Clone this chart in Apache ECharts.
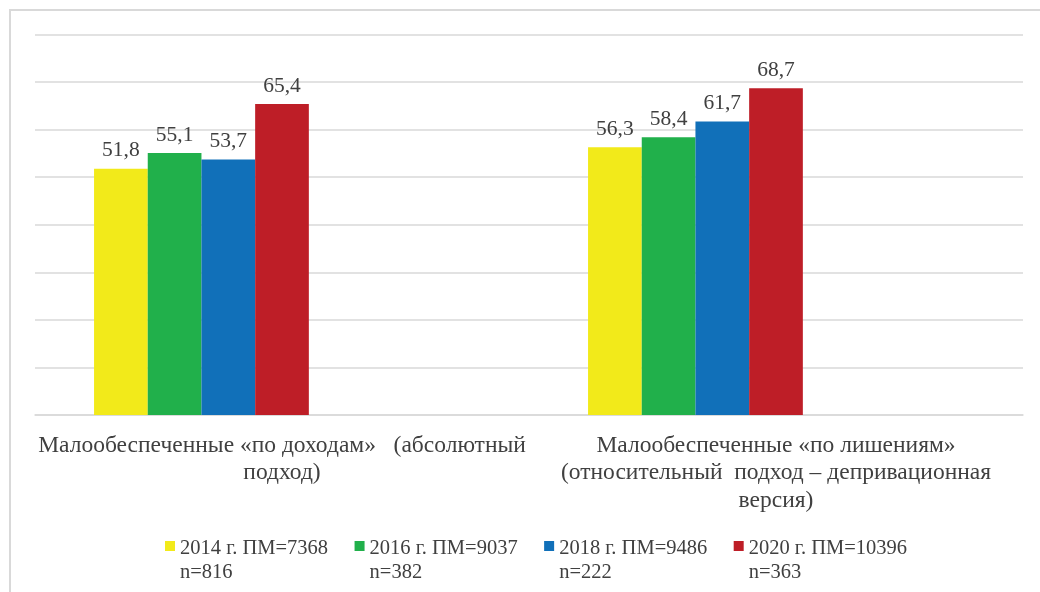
<!DOCTYPE html>
<html>
<head>
<meta charset="utf-8">
<script src="https://cdn.jsdelivr.net/npm/echarts@6/dist/echarts.min.js"></script>
<style>
  html, body { margin: 0; padding: 0; background: #fff; }
  #chart { width: 1040px; height: 592px; }
</style>
</head>
<body>
<div id="chart"></div>
<script>
const categories = [
  "Малообеспеченные «по доходам»   (абсолютный\nподход)",
  "Малообеспеченные «по лишениям»\n(относительный  подход – депривационная\nверсия)"
];
const seriesNames = [
  "2014 г. ПМ=7368\nn=816",
  "2016 г. ПМ=9037\nn=382",
  "2018 г. ПМ=9486\nn=222",
  "2020 г. ПМ=10396\nn=363"
];
const values2014 = [51.8, 56.3];
const values2016 = [55.1, 58.4];
const values2018 = [53.7, 61.7];
const values2020 = [65.4, 68.7];
const colors = ["#f2ea1a", "#21b04b", "#1170b9", "#be1e27"];

const textColor = "#404040";
const serif = "'Liberation Serif', 'DejaVu Serif', serif";

// square sitting beside the first text line (the two tiny strokes stretch the box to two lines)
const legendIcon = "path://M0,0L0.01,0M0,4L10,4L10,14L0,14ZM0,48L0.01,48";

const chart = echarts.init(document.getElementById("chart"), null, { renderer: "canvas" });

const dataSets = [values2014, values2016, values2018, values2020];
const series = dataSets.map((d, i) => ({
  name: seriesNames[i],
  type: "bar",
  data: d,
  barWidth: 53.7,
  barGap: "0%",
  itemStyle: { color: colors[i] },
  label: {
    show: true,
    position: "top",
    distance: 7,
    color: textColor,
    fontFamily: serif,
    fontSize: 21.5,
    formatter: (p) => String(p.value).replace(".", ",")
  }
}));
// empty slots Excel reserves to the right of each cluster
for (let k = 0; k < 3; k++) {
  series.push({
    name: "empty" + k,
    type: "bar",
    data: [null, null],
    barWidth: 53.7,
    barGap: "0%",
    silent: true
  });
}

const option = {
  animation: false,
  graphic: [{
    type: "rect",
    shape: { x: 10, y: 10, width: 1060, height: 620 },
    style: { fill: "none", stroke: "#d9d9d9", lineWidth: 2 },
    silent: true
  }],
  grid: { left: 35, right: 17, top: 34.5, bottom: 177 },
  legend: {
    data: seriesNames,
    left: 165,
    top: 537,
    padding: 0,
    itemWidth: 10,
    itemHeight: 48,
    itemGap: 26.5,
    icon: legendIcon,
    textStyle: {
      color: textColor,
      fontFamily: serif,
      fontSize: 20.5,
      lineHeight: 24
    }
  },
  xAxis: {
    type: "category",
    data: categories,
    axisLine: { lineStyle: { color: "#d9d9d9", width: 1.5 } },
    axisTick: { show: false },
    axisLabel: {
      interval: 0,
      margin: 17,
      color: textColor,
      fontFamily: serif,
      fontSize: 23.5,
      lineHeight: 27.5
    }
  },
  yAxis: {
    type: "value",
    min: 0,
    max: 80,
    interval: 10,
    axisLabel: { show: false },
    axisLine: { show: false },
    axisTick: { show: false },
    splitLine: { lineStyle: { color: "#d9d9d9", width: 1.5 } }
  },
  series: series
};

chart.setOption(option);
</script>
</body>
</html>
